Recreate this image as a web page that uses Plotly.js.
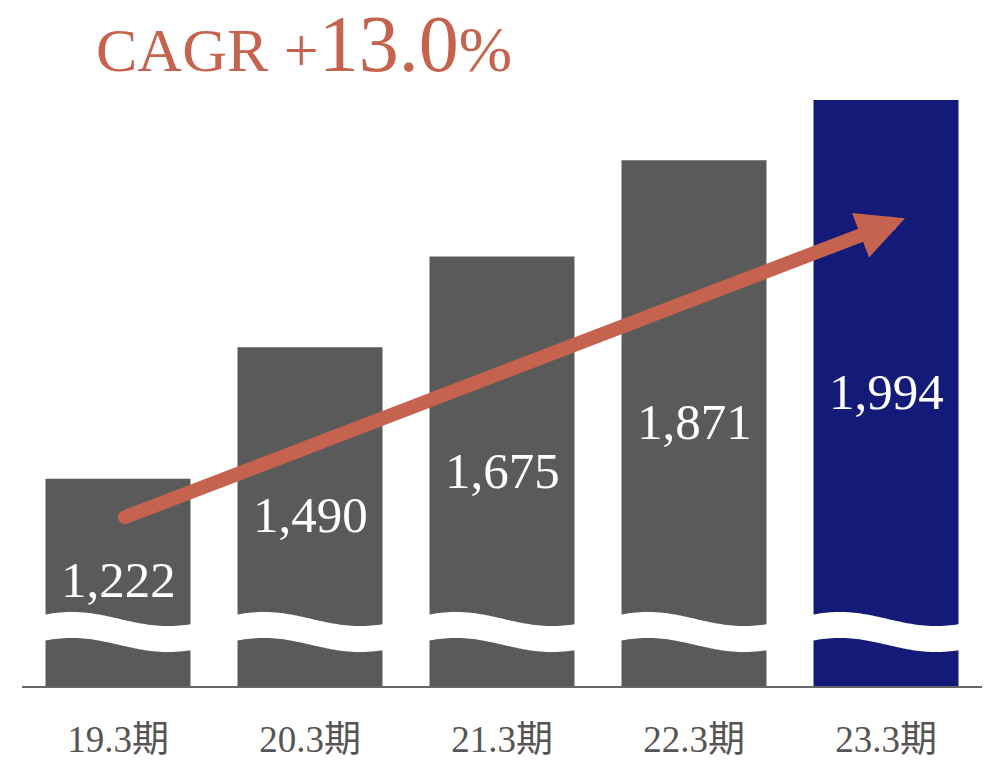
<!DOCTYPE html>
<html>
<head>
<meta charset="utf-8">
<script src="https://cdn.plot.ly/plotly-3.0.1.min.js"></script>
<style>html,body{margin:0;padding:0;background:#fff;}#chart{width:992px;height:760px;}</style>
</head>
<body>
<div id="chart"></div>
<script>
// ---- data ----
var periods = ['19.3期', '20.3期', '21.3期', '22.3期', '23.3期'];
var sales = [1222, 1490, 1675, 1871, 1994];
var cagrText = '13.0';
var highlightIndex = 4;

// ---- layout / style settings ----
var greyBar = '#5a5a5a';
var navyBar = '#131a78';
var accent = '#c5634f';
var serif = '"Liberation Serif", "Noto Sans CJK JP", serif';
var yRange = [800, 2000];
var labelPos = [1016, 1148, 1238, 1338, 1399];   // vertical placement of value labels
var xs = periods.map(function (_, i) { return i; });
var barColors = sales.map(function (_, i) { return i === highlightIndex ? navyBar : greyBar; });

function fmt(v) { return v.toLocaleString('en-US'); }

// wavy break band (decoration)
var waveC = 910, waveH = 26.5, waveA = 14.3, wavePeak = -0.24;
function waveY(x, off) { return waveC + off + waveA * Math.cos(2 * Math.PI * (x - wavePeak)); }
var topPts = [], botPts = [];
for (var k = 0; k <= 500; k++) {
  var xx = -0.5 + k * 0.01;
  topPts.push(xx.toFixed(3) + ',' + waveY(xx, waveH).toFixed(2));
  botPts.push(xx.toFixed(3) + ',' + waveY(xx, -waveH).toFixed(2));
}
var wavePath = 'M' + topPts.join('L') + 'L' + botPts.reverse().join('L') + 'Z';

// arrow endpoints (decoration, axis coordinates)
var arrowTail = {x: 0.036, y: 1144};
var arrowTip = {x: 4.099, y: 1753};

var traces = [{
  type: 'bar',
  x: xs,
  y: sales,
  width: 0.755,
  marker: {color: barColors, line: {width: 0}},
  hoverinfo: 'skip'
}];

var annotations = sales.map(function (v, i) {
  return {
    x: xs[i], y: labelPos[i], xref: 'x', yref: 'y',
    text: fmt(v), showarrow: false,
    font: {family: serif, size: 51, color: '#ffffff'},
    xanchor: 'center', yanchor: 'middle'
  };
});
annotations.push({
  x: arrowTip.x, y: arrowTip.y, xref: 'x', yref: 'y',
  ax: arrowTail.x, ay: arrowTail.y, axref: 'x', ayref: 'y',
  text: '', showarrow: true,
  arrowhead: 2, arrowsize: 0.68, arrowwidth: 14, arrowcolor: accent
});

var layout = {
  width: 992, height: 760,
  margin: {l: 22, r: 10, t: 97, b: 74, pad: 0},
  paper_bgcolor: '#ffffff', plot_bgcolor: '#ffffff',
  showlegend: false,
  title: {
    text: 'CAGR +<span style="font-size:80px">' + cagrText + '</span><span style="font-size:64px">%</span>',
    font: {family: serif, size: 62, color: accent},
    xref: 'container', yref: 'container',
    x: 96 / 992, xanchor: 'left',
    y: 1 - 71 / 760, yanchor: 'bottom'
  },
  xaxis: {
    range: [-0.5, 4.5],
    tickvals: xs, ticktext: periods,
    tickfont: {family: serif, size: 37, color: '#555555'},
    ticks: '', ticklabelstandoff: 20,
    showgrid: false, zeroline: false,
    showline: true, linecolor: '#666666', linewidth: 2,
    fixedrange: true
  },
  yaxis: {range: yRange, visible: false, showgrid: false, zeroline: false, fixedrange: true},
  shapes: [
    {type: 'path', xref: 'x', yref: 'y', path: wavePath, fillcolor: '#ffffff', line: {width: 0}, layer: 'above'},
    {type: 'circle', xref: 'x', yref: 'y', xsizemode: 'pixel', ysizemode: 'pixel',
     xanchor: arrowTail.x, yanchor: arrowTail.y, x0: -7, x1: 7, y0: -7, y1: 7,
     fillcolor: accent, line: {width: 0}, layer: 'above'}
  ],
  annotations: annotations
};

Plotly.newPlot('chart', traces, layout, {displayModeBar: false, staticPlot: true});
</script>
</body>
</html>
